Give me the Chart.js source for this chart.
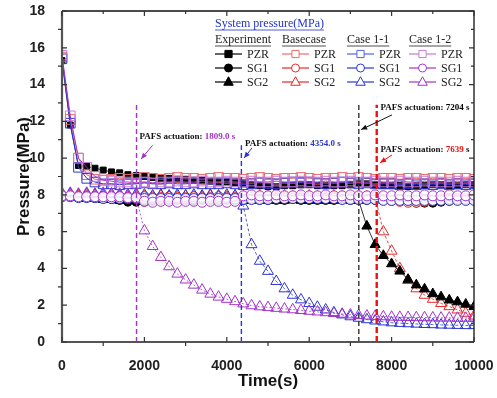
<!DOCTYPE html>
<html><head><meta charset="utf-8">
<script src="https://cdn.jsdelivr.net/npm/chart.js@4/dist/chart.umd.min.js"></script>
<style>html,body{margin:0;padding:0;background:#fff;}#wrap{width:497px;height:398px;position:relative;}</style>
</head><body><div id="wrap"><canvas id="c" width="497" height="398"></canvas></div>
<script>
// ---------- DATA ----------
const timeS = [0,200,400,600,800,1000,1200,1400,1600,1800,2000,2200,2400,2600,2800,3000,3200,3400,3600,3800,4000,4200,4400,4600,4800,5000,5200,5400,5600,5800,6000,6200,6400,6600,6800,7000,7200,7400,7600,7800,8000,8200,8400,8600,8800,9000,9200,9400,9600,9800,10000];
const xTickLabels = [0,2000,4000,6000,8000,10000];
const yTickLabels = [0,2,4,6,8,10,12,14,16,18];
const actuationTimes = [1809.0, 4354.0, 7204, 7639];

const expPZR = [15.3,11.8,9.6,9.55,9.45,9.35,9.25,9.2,9.1,9.05,9.0,8.95,8.9,8.9,8.85,8.85,8.8,8.8,8.75,8.7,8.7,8.65,8.6,8.55,8.5,8.45,8.45,8.5,8.5,8.55,8.55,8.5,8.5,8.5,8.5,8.55,8.6,8.6,8.55,8.5,8.5,8.5,8.45,8.5,8.5,8.55,8.55,8.5,8.5,8.55,8.55];
const expSG1 = [8.0,7.95,7.9,7.85,7.8,7.8,7.75,7.7,7.6,7.6,7.6,7.65,7.7,7.7,7.7,7.7,7.65,7.7,7.7,7.7,7.7,7.7,7.7,7.75,7.7,7.7,7.7,7.7,7.75,7.7,7.7,7.7,7.7,7.7,7.75,7.7,7.7,7.7,7.7,7.7,7.7,7.65,7.6,7.55,7.55,7.55,7.6,7.65,7.7,7.7,7.7];
const expSG2 = [7.95,7.9,7.85,7.8,7.8,7.75,7.75,7.7,7.7,7.7,7.65,7.7,7.7,7.7,7.75,7.7,7.7,7.7,7.75,7.7,7.7,7.75,7.7,7.7,7.75,7.7,7.7,7.7,7.75,7.7,7.7,7.75,7.7,7.7,7.75,7.7,7.7,6.3,5.3,4.7,4.25,3.85,3.4,3.1,2.88,2.62,2.45,2.28,2.18,2.05,1.92];

const basePZR = [15.5,12.1,10.0,9.1,8.85,8.8,8.85,8.9,8.85,8.9,8.95,8.9,8.85,8.9,8.95,8.9,8.9,8.85,8.9,8.95,8.9,8.9,8.85,8.9,8.95,8.9,8.85,8.9,8.9,8.95,8.9,8.85,8.9,8.9,8.95,8.9,8.95,8.9,8.85,8.9,8.9,8.85,8.9,8.9,8.85,8.9,8.9,8.85,8.9,8.9,8.85];
const baseSG1 = [7.95,7.95,7.9,7.9,7.9,7.9,7.85,7.9,7.85,7.85,7.9,7.85,7.85,7.9,7.85,7.85,7.9,7.85,7.85,7.9,7.85,7.85,7.9,7.85,7.85,7.9,7.85,7.85,7.9,7.85,7.85,7.9,7.85,7.85,7.9,7.85,7.85,7.9,7.85,7.75,7.7,7.65,7.6,7.6,7.65,7.7,7.75,7.8,7.8,7.8,7.8];
const baseSG2 = [7.95,7.95,7.9,7.95,7.9,7.9,7.95,7.9,7.9,7.95,7.9,7.9,7.95,7.9,7.9,7.95,7.9,7.9,7.95,7.9,7.9,7.95,7.9,7.9,7.95,7.9,7.9,7.95,7.9,7.9,7.95,7.9,7.9,7.95,7.9,7.9,7.95,7.9,7.9,6.0,4.95,4.0,3.35,2.9,2.55,2.33,2.1,1.93,1.75,1.57,1.42];

const c11PZR = [15.4,11.9,9.5,8.9,8.7,8.6,8.6,8.55,8.6,8.6,8.65,8.6,8.6,8.65,8.6,8.6,8.65,8.6,8.6,8.6,8.65,8.6,8.55,8.6,8.65,8.6,8.6,8.65,8.7,8.65,8.7,8.65,8.6,8.65,8.7,8.65,8.6,8.65,8.6,8.6,8.6,8.55,8.6,8.55,8.6,8.55,8.6,8.55,8.6,8.55,8.6];
const c11SG1 = [7.9,7.9,7.85,7.85,7.85,7.8,7.8,7.8,7.8,7.8,7.8,7.8,7.8,7.8,7.8,7.8,7.8,7.8,7.8,7.8,7.8,7.8,7.75,7.75,7.75,7.75,7.8,7.8,7.8,7.8,7.8,7.8,7.8,7.8,7.75,7.75,7.75,7.75,7.75,7.7,7.7,7.7,7.7,7.7,7.7,7.7,7.7,7.7,7.7,7.7,7.7];
const c11SG2 = [8.0,8.05,8.0,8.05,8.0,8.0,8.05,8.0,8.0,8.05,8.0,7.95,8.0,7.95,8.0,7.95,8.0,7.95,8.0,7.95,8.0,7.95,7.4,5.3,4.4,3.85,3.3,2.9,2.55,2.3,2.1,1.9,1.75,1.6,1.48,1.38,1.3,1.22,1.15,1.1,1.05,1.02,1.0,0.98,0.96,0.95,0.93,0.92,0.91,0.9,0.9];

const c12PZR = [15.6,12.3,10.0,9.5,9.0,8.8,8.75,8.7,8.7,8.65,8.7,8.65,8.7,8.7,8.75,8.7,8.7,8.75,8.7,8.7,8.75,8.7,8.7,8.75,8.7,8.7,8.75,8.7,8.7,8.75,8.7,8.7,8.75,8.7,8.7,8.75,8.7,8.7,8.75,8.7,8.7,8.75,8.7,8.7,8.75,8.7,8.7,8.7,8.75,8.7,8.7];
const c12SG1 = [7.95,7.95,7.9,7.9,7.9,7.9,7.9,7.9,7.85,7.85,7.65,7.6,7.65,7.65,7.6,7.65,7.65,7.6,7.65,7.65,7.6,7.65,7.95,8.0,7.95,7.95,8.0,7.95,7.95,8.0,7.95,7.95,8.0,7.95,7.95,8.0,7.95,7.95,8.0,7.95,7.95,8.0,7.95,7.95,8.0,7.95,7.95,8.0,7.95,7.95,8.0];
const c12SG2 = [8.1,8.1,8.05,8.1,8.05,8.1,8.05,8.05,8.0,7.9,6.05,5.2,4.6,4.1,3.7,3.38,3.1,2.83,2.61,2.45,2.33,2.2,2.08,1.98,1.92,1.88,1.84,1.8,1.76,1.72,1.68,1.64,1.6,1.56,1.52,1.48,1.45,1.42,1.4,1.38,1.36,1.35,1.34,1.33,1.33,1.32,1.31,1.31,1.3,1.3,1.3];

// ---------- STYLE ----------
const RED = '#e42a2a', RED_L = '#ee6a6a';
const BLUE = '#2b36cf', BLUE_L = '#5560e0';
const PURP = '#a233c8', PURP_L = '#c77ad9';
const SANS = '"Liberation Sans", Arial, sans-serif';
const SERIF = '"Liberation Serif", "Times New Roman", serif';

function pts(vals){ return timeS.map((t,i)=>({x:t,y:vals[i]})); }
function ds(label, vals, color, lineColor, style, r, fill, dash, order, lw){
  return {label, data:pts(vals), borderColor:lineColor, backgroundColor:fill,
    pointBorderColor:color, pointBackgroundColor:fill, pointStyle:style, pointRadius:r,
    pointBorderWidth:1, borderWidth:lw, borderDash:dash, showLine:true, tension:0, order};
}
const datasets = [
  ds('Experiment PZR', expPZR, '#000', '#000', 'rect', 4.2, '#000', [], 9, 0.8),
  ds('Experiment SG1', expSG1, '#000', '#000', 'circle', 4, '#000', [], 9, 0.8),
  ds('Experiment SG2', expSG2, '#000', '#000', 'triangle', 5.8, '#000', [], 4, 0.8),
  ds('Basecase PZR', basePZR, RED_L, RED_L, 'rect', 6.8, 'rgba(255,255,255,0)', [], 3, 1),
  ds('Basecase SG1', baseSG1, RED, RED, 'circle', 5, 'rgba(255,255,255,0.85)', [], 3, 1),
  ds('Basecase SG2', baseSG2, RED, RED, 'triangle', 6.3, 'rgba(255,255,255,0)', [3,2], 5, 0.8),
  ds('Case 1-1 PZR', c11PZR, BLUE, BLUE, 'rect', 6.8, 'rgba(255,255,255,0)', [], 2, 1),
  ds('Case 1-1 SG1', c11SG1, BLUE, BLUE, 'circle', 5, 'rgba(255,255,255,0.85)', [], 2, 1.6),
  ds('Case 1-1 SG2', c11SG2, BLUE, BLUE, 'triangle', 6.3, 'rgba(255,255,255,0)', [3,2], 2, 0.8),
  ds('Case 1-2 PZR', c12PZR, PURP_L, PURP, 'rect', 6.8, 'rgba(255,255,255,0)', [], 1, 1),
  ds('Case 1-2 SG1', c12SG1, PURP, PURP, 'circle', 5, 'rgba(255,255,255,0.85)', [], 1, 1.6),
  ds('Case 1-2 SG2', c12SG2, PURP, PURP, 'triangle', 6.3, 'rgba(255,255,255,0)', [2,2], 1, 0.8)
];

function marker(ctx, style, x, y, r, stroke, fill){
  ctx.save(); ctx.beginPath();
  if(style==='rect'){ ctx.rect(x-r, y-r, 2*r, 2*r); }
  else if(style==='circle'){ ctx.arc(x, y, r, 0, Math.PI*2); }
  else { ctx.moveTo(x, y-r*1.05); ctx.lineTo(x+r*0.95, y+r*0.65); ctx.lineTo(x-r*0.95, y+r*0.65); ctx.closePath(); }
  if(fill){ ctx.fillStyle=fill; ctx.fill(); }
  ctx.strokeStyle=stroke; ctx.lineWidth=1; ctx.stroke(); ctx.restore();
}
function arrow(ctx, x1, y1, x2, y2, color){
  ctx.save(); ctx.strokeStyle=color; ctx.fillStyle=color; ctx.lineWidth=1;
  ctx.beginPath(); ctx.moveTo(x1,y1); ctx.lineTo(x2,y2); ctx.stroke();
  const a=Math.atan2(y2-y1,x2-x1), L=6, W=2.6;
  ctx.beginPath(); ctx.moveTo(x2,y2);
  ctx.lineTo(x2-L*Math.cos(a)+W*Math.sin(a), y2-L*Math.sin(a)-W*Math.cos(a));
  ctx.lineTo(x2-L*Math.cos(a)-W*Math.sin(a), y2-L*Math.sin(a)+W*Math.cos(a));
  ctx.closePath(); ctx.fill(); ctx.restore();
}

// annotation layout (value units)
const annot = [
  {top:13.0, color:PURP, w:1.4, text:'PAFS actuation: ', num:'1809.0 s', numColor:PURP, tail:'', tx:1880, ty:11.15, a:[2200,10.7,1920,9.95]},
  {top:10.7, color:BLUE, w:1.4, text:'PAFS actuation: ', num:'4354.0 s', numColor:BLUE, tail:'', tx:4440, ty:10.8, a:[4610,10.55,4420,10.0]},
  {top:13.0, color:'#333', w:1.4, text:'PAFS actuation: ', num:'7204', numColor:'#000', tail:' s', tx:7730, ty:12.75, a:[8010,12.35,7260,11.55]},
  {top:12.9, color:'#ee1111', w:2.4, text:'PAFS actuation: ', num:'7639', numColor:'#ee1111', tail:' s', tx:7730, ty:10.45, a:[8010,10.17,7720,9.75]}
];

const deco = {
  id:'deco',
  afterDatasetsDraw(chart){
    const ctx=chart.ctx, xs=chart.scales.x, ys=chart.scales.y;
    ctx.save();
    actuationTimes.forEach((t,i)=>{
      const A=annot[i]; const x=xs.getPixelForValue(t);
      ctx.strokeStyle=A.color; ctx.lineWidth=A.w; ctx.setLineDash(A.w>2?[6,3]:[5,3]);
      ctx.beginPath(); ctx.moveTo(x, ys.getPixelForValue(0)); ctx.lineTo(x, ys.getPixelForValue(A.top)); ctx.stroke();
    });
    ctx.setLineDash([]);
    annot.forEach(A=>{
      ctx.font='bold 9px '+SERIF; ctx.textBaseline='middle'; ctx.textAlign='left';
      let x=xs.getPixelForValue(A.tx), y=ys.getPixelForValue(A.ty);
      ctx.fillStyle='#111'; ctx.fillText(A.text,x,y); x+=ctx.measureText(A.text).width;
      ctx.fillStyle=A.numColor; ctx.fillText(A.num,x,y); x+=ctx.measureText(A.num).width;
      ctx.fillStyle='#111'; ctx.fillText(A.tail,x,y);
      arrow(ctx, xs.getPixelForValue(A.a[0]), ys.getPixelForValue(A.a[1]), xs.getPixelForValue(A.a[2]), ys.getPixelForValue(A.a[3]), A.color==='#333'?'#111':A.color);
    });
    ctx.restore();
  },
  afterDraw(chart){
    const ctx=chart.ctx, xs=chart.scales.x, ys=chart.scales.y, ca=chart.chartArea;
    ctx.save();
    // frame
    ctx.strokeStyle='#111'; ctx.lineWidth=1.3;
    ctx.beginPath(); ctx.moveTo(ca.left, ca.top); ctx.lineTo(ca.right, ca.top); ctx.lineTo(ca.right, ca.bottom); ctx.stroke();
    ctx.strokeStyle='#555'; ctx.lineWidth=2.2;
    ctx.beginPath(); ctx.moveTo(ca.left, ca.top); ctx.lineTo(ca.left, ca.bottom); ctx.lineTo(ca.right, ca.bottom); ctx.stroke();
    // ticks
    ctx.lineWidth=1.2; ctx.strokeStyle='#333';
    for(let v=0; v<=10000; v+=1000){
      const x=xs.getPixelForValue(v), major=v%2000===0;
      ctx.beginPath();
      if(major){ ctx.moveTo(x, ca.bottom); ctx.lineTo(x, ca.bottom-5); }
      else { ctx.moveTo(x, ca.bottom); ctx.lineTo(x, ca.bottom+4); }
      ctx.moveTo(x, ca.top); ctx.lineTo(x, ca.top+(major?5:3));
      ctx.stroke();
    }
    for(let v=0; v<=18; v+=1){
      const y=ys.getPixelForValue(v), major=v%2===0;
      ctx.beginPath();
      if(major){ ctx.moveTo(ca.left, y); ctx.lineTo(ca.left+5, y); }
      else { ctx.moveTo(ca.left, y); ctx.lineTo(ca.left-4, y); }
      ctx.moveTo(ca.right, y); ctx.lineTo(ca.right-(major?5:3), y);
      ctx.stroke();
    }
    // legend
    ctx.textBaseline='middle'; ctx.textAlign='left';
    ctx.font='12px '+SERIF;
    const title='System pressure(MPa)';
    ctx.fillStyle='#2233cc'; ctx.fillText(title, 215, 24);
    let w=ctx.measureText(title).width;
    ctx.strokeStyle='#2233cc'; ctx.lineWidth=0.8;
    ctx.beginPath(); ctx.moveTo(215, 30); ctx.lineTo(215+w, 30); ctx.stroke();
    const cols=[
      {name:'Experiment', x:215, c:['#000','#000','#000'], f:'#000'},
      {name:'Basecase', x:282, c:[RED_L,RED,RED], f:null},
      {name:'Case 1-1', x:347, c:[BLUE_L,BLUE,BLUE], f:null},
      {name:'Case 1-2', x:409, c:[PURP_L,PURP,PURP], f:null}
    ];
    const rows=[{n:'PZR',s:'rect',y:54},{n:'SG1',s:'circle',y:68},{n:'SG2',s:'triangle',y:82}];
    cols.forEach(col=>{
      ctx.fillStyle='#222'; ctx.fillText(col.name, col.x, 40);
      const ww=ctx.measureText(col.name).width;
      ctx.strokeStyle='#222'; ctx.lineWidth=0.8;
      ctx.beginPath(); ctx.moveTo(col.x, 46); ctx.lineTo(col.x+ww, 46); ctx.stroke();
      rows.forEach((r,i)=>{
        ctx.strokeStyle=col.c[i]; ctx.lineWidth=1.2;
        ctx.beginPath(); ctx.moveTo(col.x, r.y); ctx.lineTo(col.x+27, r.y); ctx.stroke();
        const rr = r.s==='rect'?3.6:(r.s==='circle'?4:5);
        marker(ctx, r.s, col.x+13.5, r.y, rr, col.c[i], col.f?col.f:'#fff');
        ctx.fillStyle='#222'; ctx.fillText(r.n, col.x+32, r.y+0.5);
      });
    });
    ctx.restore();
  }
};

new Chart(document.getElementById('c'), {
  type:'scatter',
  data:{datasets},
  options:{
    responsive:false, animation:false, devicePixelRatio:1,
    layout:{padding:{left:0, right:23, top:11, bottom:0}},
    plugins:{legend:{display:false}, tooltip:{enabled:false}},
    scales:{
      x:{type:'linear', min:0, max:10000,
        afterBuildTicks(s){ s.ticks = xTickLabels.map(v=>({value:v})); },
        afterFit(s){ s.height=56; s.paddingLeft=0; s.paddingRight=0; },
        grid:{display:false}, border:{display:false},
        ticks:{font:{family:SANS, size:14, weight:'bold'}, color:'#222', padding:8, maxRotation:0, callback:(v)=>String(v)},
        title:{display:true, text:'Time(s)', font:{family:SANS, size:17, weight:'bold'}, color:'#111', padding:{top:0,bottom:6}}
      },
      y:{type:'linear', min:0, max:18,
        afterBuildTicks(s){ s.ticks = yTickLabels.map(v=>({value:v})); },
        afterFit(s){ s.width=62; s.paddingTop=0; s.paddingBottom=0; },
        grid:{display:false}, border:{display:false},
        ticks:{font:{family:SANS, size:14, weight:'bold'}, color:'#222', padding:9, callback:(v)=>String(v)},
        title:{display:true, text:'Pressure(MPa)', font:{family:SANS, size:17, weight:'bold'}, color:'#111', padding:{top:14,bottom:0}}
      }
    }
  },
  plugins:[deco]
});
</script></body></html>
